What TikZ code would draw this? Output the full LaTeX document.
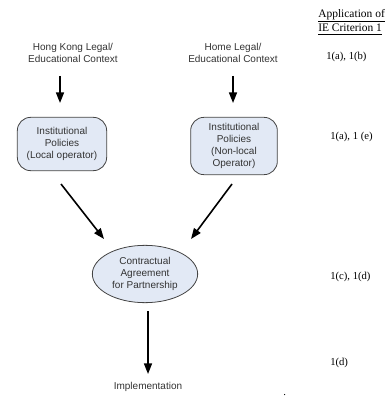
\documentclass[tikz,border=0pt]{standalone}
\usepackage{fontspec}
\setmainfont{Liberation Serif}
\setsansfont{Liberation Sans}
\usepackage{tikz}
\usetikzlibrary{positioning,arrows.meta,shapes.geometric}

\definecolor{boxfill}{HTML}{E2E9F5}
\definecolor{boxline}{HTML}{444444}
\definecolor{flowink}{HTML}{333333}

\tikzset{
  flowtext/.style={font=\sffamily\fontsize{7.5}{9}\selectfont, text=flowink, align=center, inner sep=0pt},
  policybox/.style={flowtext, draw=boxline, fill=boxfill, rounded corners=10pt, line width=0.6pt},
  agreeoval/.style={flowtext, draw=boxline, fill=boxfill, ellipse, line width=0.6pt},
  criterion/.style={font=\fontsize{8}{10}\selectfont, align=left, anchor=west, inner sep=0pt},
  flowarrow/.style={-{Triangle[length=8pt,width=6pt]}, line width=1.2pt}
}

\begin{document}
\begin{tikzpicture}[x=0.75pt,y=-0.75pt]
\useasboundingbox (0,0) rectangle (390,399);

% contexts
\node[flowtext] (hk) at (73,53) {Hong Kong Legal/\\Educational Context};
\node[flowtext] (home) at (233,53) {Home Legal/\\Educational Context};

% policies
\node[policybox, minimum width=67pt, minimum height=40pt] (local) at (62,144) {Institutional\\Policies\\(Local operator)};
\node[policybox, minimum width=65pt, minimum height=43pt] (nonlocal) at (234,146) {Institutional\\Policies\\(Non-local\\Operator)};

% agreement
\node[agreeoval, minimum width=79pt, minimum height=43pt] (agree) at (145,274) {Contractual\\Agreement\\for Partnership};

\node[flowtext] (impl) at (148,387) {Implementation};

% arrows
\coordinate (hkA) at (60,76);
\coordinate (hkB) at (60,103);
\coordinate (homeA) at (233,76);
\coordinate (homeB) at (233,103);
\coordinate (localA) at (61,184);
\coordinate (localB) at (104,239);
\coordinate (nonlocalA) at (232,184);
\coordinate (nonlocalB) at (191,239);
\coordinate (agreeA) at (148,311);
\coordinate (agreeB) at (148,374);
\draw[flowarrow] (hkA) -- (hkB);
\draw[flowarrow] (homeA) -- (homeB);
\draw[flowarrow] (localA) -- (localB);
\draw[flowarrow] (nonlocalA) -- (nonlocalB);
\draw[flowarrow] (agreeA) -- (agreeB);

% criterion column
\node[criterion, font=\fontsize{8.6}{11}\selectfont] (head) at (318,22) {\underline{Application of}\\\underline{IE Criterion 1}};
\node[criterion] (critA) at (326,57) {1(a), 1(b)};
\node[criterion] (critB) at (330,137) {1(a), 1 (e)};
\node[criterion] (critC) at (330,277) {1(c), 1(d)};
\node[criterion] (critD) at (330,363) {1(d)};
\node[criterion] (dot) at (283,395) {.};
\end{tikzpicture}
\end{document}
